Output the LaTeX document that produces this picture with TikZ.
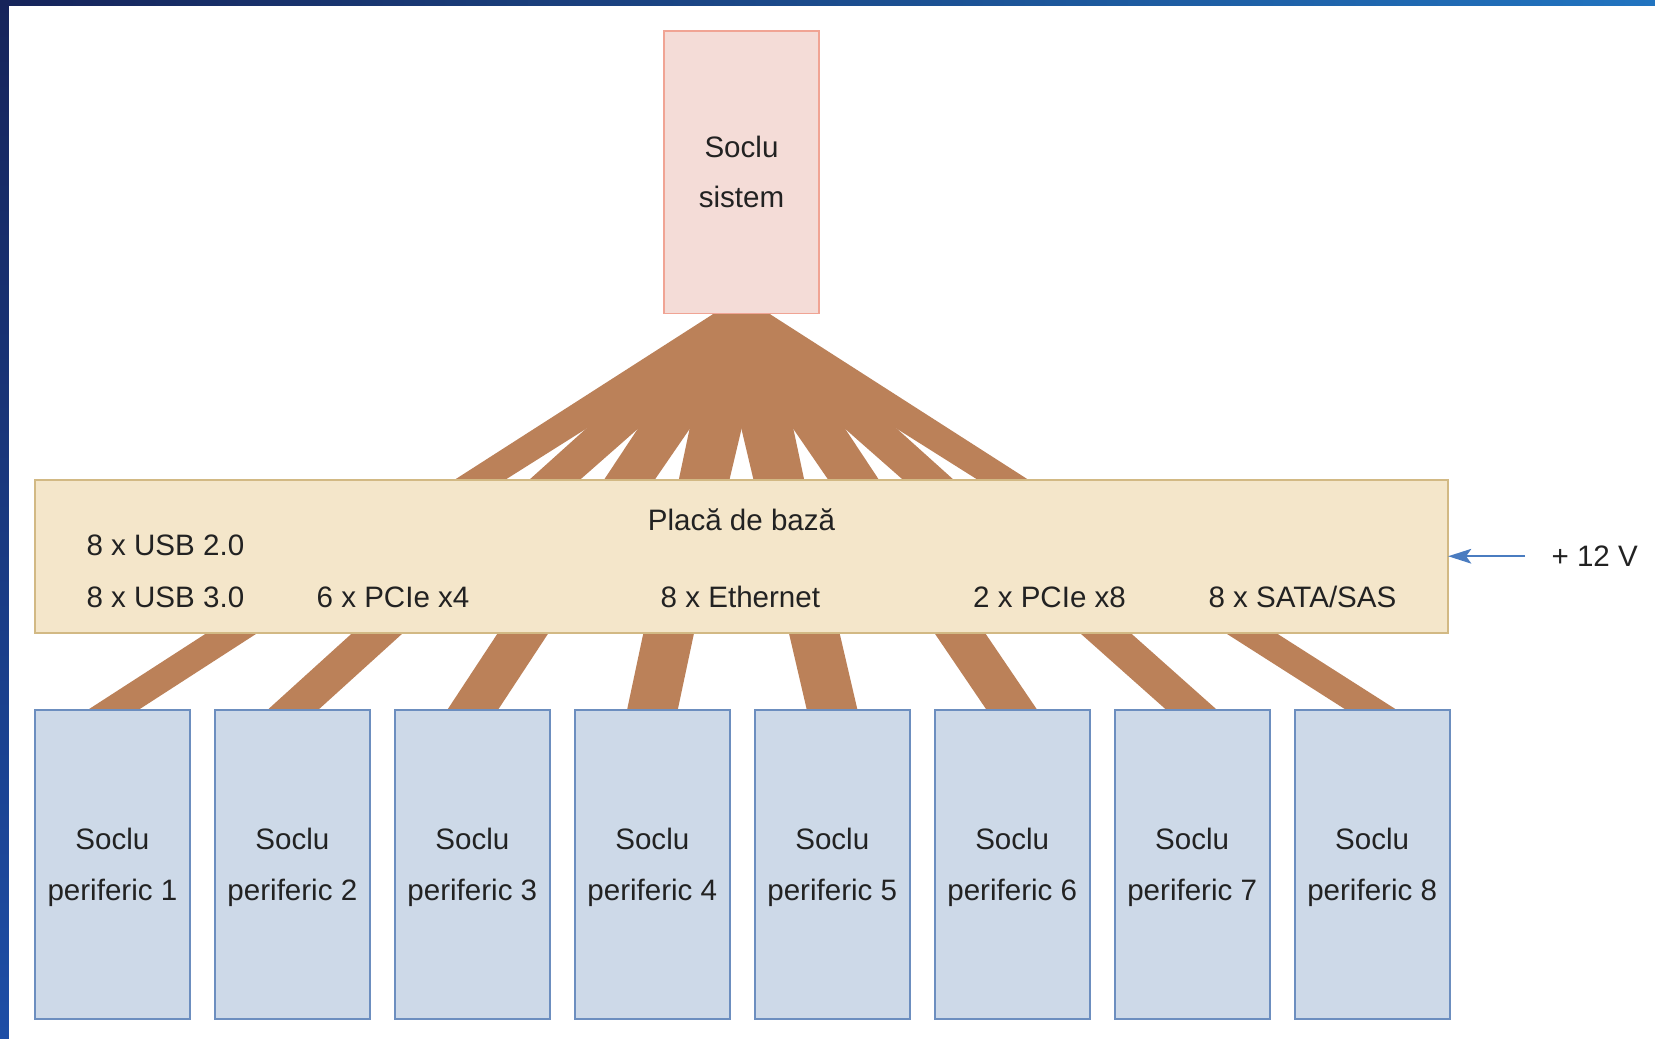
\documentclass[tikz,border=0pt]{standalone}
\usepackage{fontspec}
\setmainfont{Liberation Sans}
\usetikzlibrary{calc,arrows.meta}
\pgfdeclarelayer{background}
\pgfsetlayers{background,main}
\definecolor{sysfill}{HTML}{F4DCD7}
\definecolor{sysline}{HTML}{F0A494}
\definecolor{brdfill}{HTML}{F4E6CA}
\definecolor{brdline}{HTML}{D2B984}
\definecolor{perfill}{HTML}{CDD9E8}
\definecolor{perline}{HTML}{6C8EBF}
\definecolor{bandc}{HTML}{BB8159}
\definecolor{arrowblue}{HTML}{4A7CC0}
\definecolor{txt}{HTML}{222222}
\definecolor{navyA}{HTML}{16245A}
\definecolor{navyB}{HTML}{1D4EA6}
\definecolor{navyC}{HTML}{2174C0}
\begin{document}
\begin{tikzpicture}[x=1pt,y=-1pt,
  box/.style={draw, line width=1.8pt, inner sep=0pt, outer sep=0pt, align=center, text=txt, font=\fontsize{28}{48}\selectfont},
  sysbox/.style={box, fill=sysfill, draw=sysline, minimum width=147pt, minimum height=268pt},
  perbox/.style={box, fill=perfill, draw=perline, minimum width=147pt, minimum height=292pt, text depth=-6pt},
  brdbox/.style={box, fill=brdfill, draw=brdline, minimum width=1339pt, minimum height=145pt},
  lbl/.style={inner sep=0pt, outer sep=0pt, text=txt, font=\fontsize{28}{34}\selectfont},
  bandpath/.style={fill=bandc}]
\useasboundingbox (0,0) rectangle (1568,984);

\node[sysbox] (sys) at (702.5,163) {Soclu\\sistem};
\node[brdbox] (board) at (702.5,527.5) {};
\foreach \i in {1,...,8}
  \node[perbox] (p\i) at ({106.5+(\i-1)*170.5},819) {Soclu\\periferic \i};

\node[lbl] (title) at (702.5,492) {Placă de bază};
\node[lbl, anchor=west] (usb2) at (82,517) {8 x USB 2.0};
\node[lbl, anchor=west] (usb3) at (82,566) {8 x USB 3.0};
\node[lbl, anchor=west] (pcie4) at (300,566) {6 x PCIe x4};
\node[lbl, anchor=west] (eth) at (626,566) {8 x Ethernet};
\node[lbl, anchor=west] (pcie8) at (922,566) {2 x PCIe x8};
\node[lbl, anchor=west] (sata) at (1145,566) {8 x SATA/SAS};
\node[lbl, anchor=west] (v12) at (1470,527) {+ 12 V};
\coordinate (vstart) at ($(v12.west)+(-25,0)$);
\draw[arrowblue, line width=1.5pt, -{Stealth[length=22pt,width=14pt,inset=5pt]}] (vstart) -- (board.east |- vstart);

\begin{pgfonlayer}{background}
\fill[white] (0,0) rectangle (1568,984);
\shade[top color=navyA, bottom color=navyB] (0,0) rectangle (8.5,984);
\shade[left color=navyA, right color=navyC] (0,0) rectangle (1568,5);
\foreach \i in {1,...,8}{
  \fill[bandpath] ($(sys.south)+(-26,0)$) -- ($(sys.south)+(26,0)$)
     -- ($(board.north)+({(\i-4.5)*71+24},0)$) -- ($(board.north)+({(\i-4.5)*71-24},0)$) -- cycle;
  \fill[bandpath] ($(board.south)+({(\i-4.5)*138-24},0)$) -- ($(board.south)+({(\i-4.5)*138+24},0)$)
     -- ($(p\i.north)+(24,0)$) -- ($(p\i.north)+(-24,0)$) -- cycle;
}
\end{pgfonlayer}
\end{tikzpicture}
\end{document}
